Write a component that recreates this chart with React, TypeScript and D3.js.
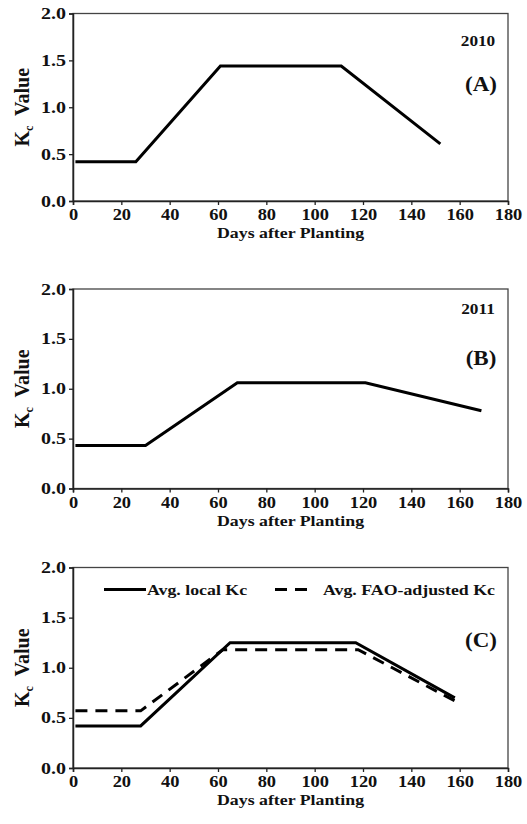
import React, { useEffect, useRef } from "react";
import * as d3 from "d3";

const xTicks = [0, 20, 40, 60, 80, 100, 120, 140, 160, 180];
const yTicks = [0.0, 0.5, 1.0, 1.5, 2.0];

const daysA = [1, 26, 61, 111, 152];
const kcA = [0.42, 0.42, 1.44, 1.44, 0.61];

const daysB = [1, 30, 68, 121, 169];
const kcB = [0.43, 0.43, 1.06, 1.06, 0.78];

const daysLocalC = [1, 28, 65, 117, 158];
const kcLocalC = [0.42, 0.42, 1.25, 1.25, 0.7];

const daysFaoC = [1, 28, 62, 118, 158];
const kcFaoC = [0.57, 0.57, 1.18, 1.18, 0.67];

const legendLabels = ["Avg. local Kc", "Avg. FAO-adjusted Kc"];

const FONT = "'Liberation Serif', 'Times New Roman', serif";
const SX = 1.15;
const DASH = "12,8";

type Series = { days: number[]; kc: number[]; dash?: string };

type PanelProps = {
  top: number;
  bottom: number;
  series: Series[];
  year?: string;
  tag: string;
  tagY: number;
  yearY?: number;
  legend?: boolean;
};

const LEFT = 73;
const RIGHT = 508;

function SText({
  x,
  y,
  size,
  anchor = "middle",
  children,
}: {
  x: number;
  y: number;
  size: number;
  anchor?: string;
  children: React.ReactNode;
}) {
  return (
    <text
      transform={`translate(${x},${y}) scale(${SX},1)`}
      textAnchor={anchor}
      fontFamily={FONT}
      fontWeight="bold"
      fontSize={size}
      fill="#111"
    >
      {children}
    </text>
  );
}

function Panel({ top, bottom, series, year, tag, tagY, yearY, legend }: PanelProps) {
  const xRef = useRef<SVGGElement>(null);
  const yRef = useRef<SVGGElement>(null);
  const x = d3.scaleLinear().domain([0, 180]).range([LEFT, RIGHT]);
  const y = d3.scaleLinear().domain([0, 2]).range([bottom, top]);

  useEffect(() => {
    const gx = d3.select(xRef.current!);
    gx.selectAll("*").remove();
    gx.call(
      d3.axisBottom(x).tickValues(xTicks).tickSize(4).tickPadding(4).tickFormat(d3.format("d")) as any
    );
    const gy = d3.select(yRef.current!);
    gy.selectAll("*").remove();
    gy.call(
      d3.axisLeft(y).tickValues(yTicks).tickSize(4).tickPadding(3).tickFormat(d3.format(".1f")) as any
    );
    [gx, gy].forEach((g) => {
      g.selectAll("text")
        .attr("font-family", FONT)
        .attr("font-weight", "bold")
        .attr("font-size", 16)
        .attr("fill", "#111");
      g.selectAll("line").attr("stroke", "#222").attr("stroke-width", 1.3);
      g.select(".domain").attr("stroke", "#222").attr("stroke-width", 1.5);
    });
    gx.selectAll("text").attr("transform", `scale(${SX},1)`);
    gy.selectAll("text").attr("transform", "scale(1.25,1)").attr("x", -7 / 1.25);
  }, [top, bottom]);

  const line = d3
    .line<[number, number]>()
    .x((d) => x(d[0]))
    .y((d) => y(d[1]));

  const midY = (top + bottom) / 2;

  return (
    <g>
      <rect
        x={LEFT}
        y={top}
        width={RIGHT - LEFT}
        height={bottom - top}
        fill="none"
        stroke="#444"
        strokeWidth={1.3}
      />
      <g ref={xRef} transform={`translate(0,${bottom})`} />
      <g ref={yRef} transform={`translate(${LEFT},0)`} />
      {series.map((s, i) => (
        <path
          key={i}
          d={line(s.days.map((d, j) => [d, s.kc[j]] as [number, number])) || ""}
          fill="none"
          stroke="#000"
          strokeWidth={3}
          strokeDasharray={s.dash}
          strokeLinejoin="miter"
        />
      ))}
      <SText x={(LEFT + RIGHT) / 2} y={bottom + 37} size={15.5}>
        Days after Planting
      </SText>
      <text
        transform={`translate(29,${midY}) rotate(-90)`}
        textAnchor="middle"
        fontFamily={FONT}
        fontWeight="bold"
        fontSize={20}
        fill="#111"
        style={{ whiteSpace: "pre" }}
      >
        K<tspan fontSize={12} dy={4}>c</tspan>
        <tspan dy={-4}>{"  Value"}</tspan>
      </text>
      {year && (
        <SText x={478} y={yearY!} size={15}>
          {year}
        </SText>
      )}
      <SText x={481} y={tagY} size={20}>
        {tag}
      </SText>
      {legend && (
        <g>
          <line x1={104} x2={146} y1={top + 22} y2={top + 22} stroke="#000" strokeWidth={3} />
          <SText x={147} y={top + 27} size={15.5} anchor="start">
            {legendLabels[0]}
          </SText>
          <line
            x1={275}
            x2={313}
            y1={top + 22}
            y2={top + 22}
            stroke="#000"
            strokeWidth={3}
            strokeDasharray={DASH}
          />
          <SText x={323} y={top + 27} size={15.5} anchor="start">
            {legendLabels[1]}
          </SText>
        </g>
      )}
    </g>
  );
}

export default function App() {
  return (
    <svg
      width={527}
      height={824}
      style={{ position: "absolute", left: 0, top: 0, background: "#fff" }}
    >
      <rect width={527} height={824} fill="#fff" />
      <Panel
        top={13.5}
        bottom={201}
        series={[{ days: daysA, kc: kcA }]}
        year="2010"
        yearY={46}
        tag="(A)"
        tagY={91}
      />
      <Panel
        top={289}
        bottom={488.5}
        series={[{ days: daysB, kc: kcB }]}
        year="2011"
        yearY={314}
        tag="(B)"
        tagY={365}
      />
      <Panel
        top={567.5}
        bottom={768}
        series={[
          { days: daysLocalC, kc: kcLocalC },
          { days: daysFaoC, kc: kcFaoC, dash: DASH },
        ]}
        tag="(C)"
        tagY={647}
        legend
      />
    </svg>
  );
}
